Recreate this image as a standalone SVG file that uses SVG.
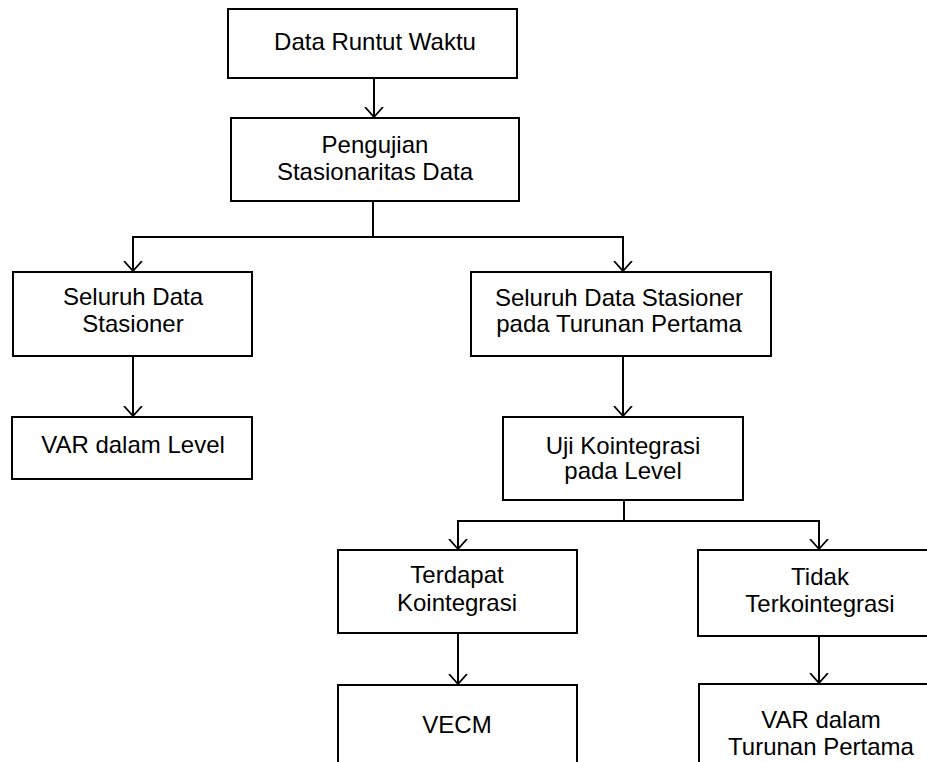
<svg xmlns="http://www.w3.org/2000/svg" width="927" height="762" viewBox="0 0 927 762">
<style>
.box{fill:#fff;stroke:#000;stroke-width:2}
.t{font-family:"Liberation Sans",Arial,sans-serif;font-size:24px;fill:#000;text-anchor:middle}
.c{fill:none;stroke:#000;stroke-width:2}
</style>
<defs>
<marker id="arr" viewBox="0 0 10 20" markerWidth="10" markerHeight="20" refX="10" refY="10" orient="auto" markerUnits="userSpaceOnUse">
<path d="M0,1 L10,10 L0,19" fill="none" stroke="#000" stroke-width="1.8"/>
</marker>
</defs>
<rect width="927" height="762" fill="#fff"/>
<g id="connectors">
<path class="c" d="M374,78 V117" marker-end="url(#arr)"/>
<path class="c" d="M373,201 V237 H133 V271" marker-end="url(#arr)"/>
<path class="c" d="M373,237 H623 V271" marker-end="url(#arr)"/>
<path class="c" d="M133,356 V416" marker-end="url(#arr)"/>
<path class="c" d="M623,356 V416" marker-end="url(#arr)"/>
<path class="c" d="M624,500 V521 H458 V549" marker-end="url(#arr)"/>
<path class="c" d="M624,521 H819 V549" marker-end="url(#arr)"/>
<path class="c" d="M458,633 V684" marker-end="url(#arr)"/>
<path class="c" d="M819,636 V683" marker-end="url(#arr)"/>
</g>
<g id="n1"><rect class="box" x="228" y="9" width="289" height="69"/><text class="t" x="375" y="50">Data Runtut Waktu</text></g>
<g id="n2"><rect class="box" x="231" y="118" width="288" height="83"/><text class="t" x="375" y="153">Pengujian</text><text class="t" x="375" y="180">Stasionaritas Data</text></g>
<g id="n3"><rect class="box" x="13" y="272" width="239" height="84"/><text class="t" x="133" y="305">Seluruh Data</text><text class="t" x="133" y="332">Stasioner</text></g>
<g id="n4"><rect class="box" x="471" y="272" width="300" height="84"/><text class="t" x="619" y="306">Seluruh Data Stasioner</text><text class="t" x="619" y="332">pada Turunan Pertama</text></g>
<g id="n5"><rect class="box" x="12" y="417" width="240" height="62"/><text class="t" x="133" y="453">VAR dalam Level</text></g>
<g id="n6"><rect class="box" x="503" y="417" width="240" height="83"/><text class="t" x="623" y="454">Uji Kointegrasi</text><text class="t" x="623" y="479">pada Level</text></g>
<g id="n7"><rect class="box" x="338" y="550" width="239" height="83"/><text class="t" x="457" y="583">Terdapat</text><text class="t" x="457" y="611">Kointegrasi</text></g>
<g id="n8"><rect class="box" x="698" y="550" width="242" height="86"/><text class="t" x="820" y="585">Tidak</text><text class="t" x="820" y="612">Terkointegrasi</text></g>
<g id="n9"><rect class="box" x="338" y="685" width="239" height="100"/><text class="t" x="457" y="733">VECM</text></g>
<g id="n10"><rect class="box" x="699" y="684" width="241" height="100"/><text class="t" x="821" y="728">VAR dalam</text><text class="t" x="821" y="755">Turunan Pertama</text></g>
</svg>
